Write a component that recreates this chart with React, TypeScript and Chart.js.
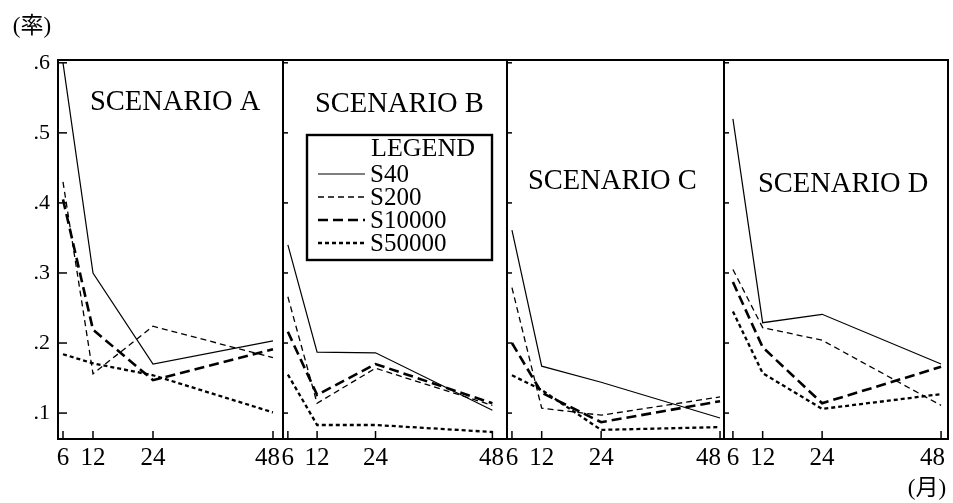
import { useEffect, useRef } from 'react';
import { Chart, registerables } from 'chart.js';

Chart.register(...registerables);

// ---------- data ----------
const MONTHS = [6, 12, 24, 48];
const Y_TICKS = [0.1, 0.2, 0.3, 0.4, 0.5, 0.6];
const SCENARIOS = ['SCENARIO A', 'SCENARIO B', 'SCENARIO C', 'SCENARIO D'];
const SERIES = ['S40', 'S200', 'S10000', 'S50000'];

// values per scenario (A, B, C, D), each at months 6, 12, 24, 48
const S40_VALUES = [
  [0.6, 0.3, 0.17, 0.203],
  [0.34, 0.187, 0.186, 0.104],
  [0.361, 0.167, 0.144, 0.093],
  [0.52, 0.229, 0.241, 0.17],
];
const S200_VALUES = [
  [0.43, 0.156, 0.224, 0.179],
  [0.266, 0.114, 0.164, 0.111],
  [0.279, 0.107, 0.097, 0.123],
  [0.305, 0.222, 0.204, 0.111],
];
const S10000_VALUES = [
  [0.405, 0.219, 0.147, 0.191],
  [0.216, 0.126, 0.17, 0.114],
  [0.2, 0.129, 0.087, 0.117],
  [0.287, 0.194, 0.114, 0.166],
];
const S50000_VALUES = [
  [0.184, 0.171, 0.154, 0.101],
  [0.155, 0.083, 0.083, 0.073],
  [0.154, 0.133, 0.076, 0.08],
  [0.245, 0.157, 0.106, 0.127],
];
const SERIES_VALUES = [S40_VALUES, S200_VALUES, S10000_VALUES, S50000_VALUES];

// ---------- layout / style ----------
const PANEL_IDS = ['xA', 'xB', 'xC', 'xD'];
const PANEL_WEIGHTS = [225, 224, 217, 224];
const PANEL_MIN = [5, 5, 5, 4.2];
const PANEL_MAX = [50, 51, 48.8, 49.4];
const Y_MIN = 0.063;
const Y_MAX = 0.604;
const TITLE_DX = [32, 32, 21, 34];
const TITLE_Y = [103, 105, 182, 185];
const SERIES_STYLE = [
  { width: 1.2, dash: [] as number[] },
  { width: 1.3, dash: [6, 4] },
  { width: 2.6, dash: [10, 5] },
  { width: 2.3, dash: [4, 3] },
];
const FONT = '"Liberation Serif", "Noto Sans CJK JP", serif';

const decorPlugin = {
  id: 'decor',
  afterDraw(chart: any) {
    const ctx = chart.ctx as CanvasRenderingContext2D;
    const area = chart.chartArea;
    const yScale = chart.scales.y;
    const xs = PANEL_IDS.map((id) => chart.scales[id]);
    const line = (x1: number, y1: number, x2: number, y2: number) => {
      ctx.beginPath();
      ctx.moveTo(x1, y1);
      ctx.lineTo(x2, y2);
      ctx.stroke();
    };
    ctx.save();
    ctx.strokeStyle = '#000';
    ctx.fillStyle = '#000';
    ctx.setLineDash([]);

    // frame and panel separators
    ctx.lineWidth = 2;
    ctx.strokeRect(area.left, area.top, area.right - area.left, area.bottom - area.top);
    xs.forEach((s: any, i: number) => {
      if (i > 0) line(s.left, area.top, s.left, area.bottom);
    });

    // inward tick marks
    ctx.lineWidth = 1.5;
    xs.forEach((s: any, i: number) => {
      Y_TICKS.forEach((v) => {
        const py = yScale.getPixelForValue(v);
        line(s.left, py, s.left + (i === 0 ? 9 : 5), py);
      });
      MONTHS.forEach((m) => {
        const px = s.getPixelForValue(m);
        line(px, area.bottom, px, area.bottom - 8);
      });
    });

    // x tick labels
    ctx.font = `25px ${FONT}`;
    ctx.textAlign = 'center';
    ctx.textBaseline = 'middle';
    xs.forEach((s: any) => {
      MONTHS.forEach((m) => {
        const label = String(m);
        const w = ctx.measureText(label).width;
        let px = s.getPixelForValue(m);
        px = Math.min(px, s.right - 3 - w / 2);
        ctx.fillText(label, px, area.bottom + 19);
      });
    });

    // scenario titles
    ctx.font = `28.5px ${FONT}`;
    ctx.textAlign = 'left';
    xs.forEach((s: any, i: number) => {
      ctx.fillText(SCENARIOS[i], s.left + TITLE_DX[i], TITLE_Y[i]);
    });

    // legend inside panel B
    const b = xs[1];
    const lx = b.left + 24;
    const ly = 135;
    ctx.fillStyle = '#fff';
    ctx.fillRect(lx, ly, 185, 125);
    ctx.fillStyle = '#000';
    ctx.lineWidth = 2.4;
    ctx.strokeRect(lx, ly, 185, 125);
    ctx.font = `26px ${FONT}`;
    ctx.fillText('LEGEND', b.left + 88, 149);
    ctx.font = `25px ${FONT}`;
    SERIES.forEach((name, i) => {
      const ey = 174 + i * 23;
      const st = SERIES_STYLE[i];
      ctx.lineWidth = st.width;
      ctx.setLineDash(st.dash);
      line(b.left + 35, ey, b.left + 82, ey);
      ctx.setLineDash([]);
      ctx.fillText(name, b.left + 87, ey + 1);
    });

    // axis unit labels
    ctx.font = `23px ${FONT}`;
    ctx.textAlign = 'center';
    ctx.fillText('(率)', 32, 27);
    ctx.fillText('(月)', 927, 489);
    ctx.restore();
  },
};

export default function App() {
  const ref = useRef<HTMLCanvasElement>(null);
  useEffect(() => {
    if (!ref.current) return;
    const datasets = PANEL_IDS.flatMap((id, p) =>
      SERIES.map((name, s) => ({
        label: `${name} ${SCENARIOS[p]}`,
        xAxisID: id,
        yAxisID: 'y',
        data: MONTHS.map((m, k) => ({ x: m, y: SERIES_VALUES[s][p][k] })),
        borderColor: '#000',
        backgroundColor: '#000',
        borderWidth: SERIES_STYLE[s].width,
        borderDash: SERIES_STYLE[s].dash,
        borderCapStyle: 'butt',
        pointRadius: 0,
        tension: 0,
        fill: false,
      }))
    );
    const scales: any = {
      y: {
        type: 'linear',
        position: 'left',
        min: Y_MIN,
        max: Y_MAX,
        afterBuildTicks: (s: any) => {
          s.ticks = Y_TICKS.map((v) => ({ value: v }));
        },
        afterFit: (s: any) => {
          s.width = 58;
        },
        ticks: {
          callback: (v: any) => '.' + Math.round(Number(v) * 10),
          font: { family: FONT, size: 22 },
          color: '#000',
          padding: 8,
        },
        grid: { display: false, drawTicks: false },
        border: { display: false },
      },
    };
    PANEL_IDS.forEach((id, i) => {
      scales[id] = {
        type: 'linear',
        position: 'bottom',
        stack: 'panels',
        stackWeight: PANEL_WEIGHTS[i],
        min: PANEL_MIN[i],
        max: PANEL_MAX[i],
        afterBuildTicks: (s: any) => {
          s.ticks = MONTHS.map((v) => ({ value: v }));
        },
        afterFit: (s: any) => {
          s.height = 64;
        },
        ticks: { display: false },
        grid: { display: false, drawTicks: false },
        border: { display: false },
      };
    });
    const chart = new Chart(ref.current, {
      type: 'line',
      data: { datasets } as any,
      options: {
        responsive: false,
        devicePixelRatio: 1,
        animation: false,
        layout: { padding: { top: 60, right: 5, left: 0, bottom: 0 } },
        plugins: { legend: { display: false }, tooltip: { enabled: false } },
        scales,
      } as any,
      plugins: [decorPlugin],
    });
    return () => chart.destroy();
  }, []);
  return (
    <div style={{ position: 'absolute', left: 0, top: 0, width: 953, height: 503, background: '#fff' }}>
      <canvas ref={ref} width={953} height={503} style={{ width: 953, height: 503, display: 'block' }} />
    </div>
  );
}
